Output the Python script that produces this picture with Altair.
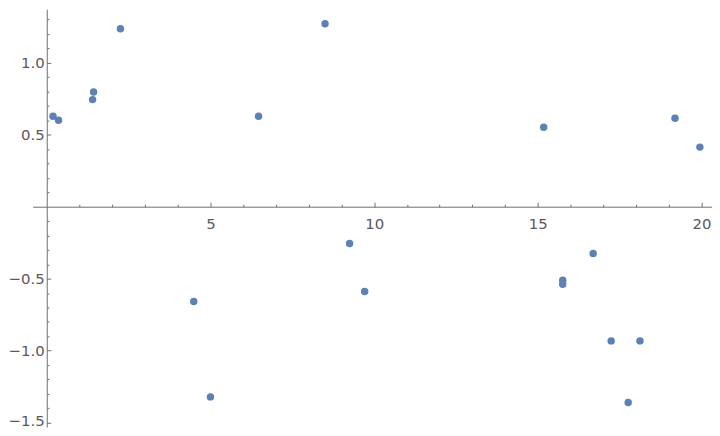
import altair as alt
import pandas as pd

# data
x_vals = [0.19, 0.36, 1.40, 1.43, 2.25, 4.49, 5.00, 6.47, 8.50, 9.25,
          9.71, 15.18, 15.76, 15.76, 16.69, 17.24, 17.76, 18.12, 19.19, 19.95]
y_vals = [0.628, 0.601, 0.744, 0.797, 1.236, -0.658, -1.321, 0.628, 1.271, -0.256,
          -0.589, 0.552, -0.511, -0.539, -0.325, -0.932, -1.36, -0.932, 0.615, 0.414]

x_major = [5, 10, 15, 20]
x_ticks = [i for i in range(1, 21)]
y_major = [-1.5, -1.0, -0.5, 0.5, 1.0]
y_ticks = [round(-1.5 + 0.1 * i, 1) for i in range(0, 29) if abs(-1.5 + 0.1 * i) > 1e-9]

df = pd.DataFrame({"x": x_vals, "y": y_vals})

# layout
x_dom = [-0.434, 20.32]
y_dom = [-1.53, 1.372]
W = 683.4
H = 420.2
PAD_LEFT = 24.7

zero_x = W * (0 - x_dom[0]) / (x_dom[1] - x_dom[0])          # px from plot left
zero_y = H * (y_dom[1] - 0) / (y_dom[1] - y_dom[0])          # px from plot top

AX = "#6e6e6e"
LAB = "#5a5a5a"
FONT = "DejaVu Sans"
FS = 15

xs = alt.Scale(domain=x_dom, nice=False, zero=False)
ys = alt.Scale(domain=y_dom, nice=False, zero=False)

# ticks pointing up (top-orient axis placed on y=0)
x_tick_axis = alt.Axis(orient="top", offset=-zero_y, values=x_ticks, labels=False, title=None,
                       grid=False, domainColor=AX, tickColor=AX, domainWidth=1, tickWidth=1,
                       tickSize={"condition": {"test": "datum.value % 5 === 0", "value": 4.5}, "value": 2.5})
# labels below y=0
x_label_axis = alt.Axis(orient="bottom", offset=-(H - zero_y), values=x_major, ticks=False, domain=False,
                        title=None, grid=False, labelFont=FONT, labelFontSize=FS, labelColor=LAB,
                        labelPadding=10, format="d")
# ticks pointing right (right-orient axis placed on x=0)
y_tick_axis = alt.Axis(orient="right", offset=-(W - zero_x), values=y_ticks, labels=False, title=None,
                       grid=False, domainColor=AX, tickColor=AX, domainWidth=1, tickWidth=1,
                       tickSize={"condition": {"test": "abs(datum.value*2 - round(datum.value*2)) < 1e-6", "value": 4},
                                 "value": 2.2})
y_label_axis = alt.Axis(orient="left", offset=-zero_x, values=y_major, ticks=False, domain=False,
                        title=None, grid=False, labelFont=FONT, labelFontSize=FS, labelColor=LAB,
                        labelPadding=2.5,
                        labelExpr="(datum.value < 0 ? '\u2212' : '') + format(abs(datum.value), '.1f')",
                        labelOffset={"condition": {"test": "datum.value < -1.4", "value": -2.5}, "value": 0})

base = alt.Chart(df)

pts = base.mark_circle(size=56, opacity=1, color="#5E81B5").encode(
    x=alt.X("x:Q", scale=xs, axis=x_tick_axis),
    y=alt.Y("y:Q", scale=ys, axis=y_tick_axis),
)
lab = base.mark_circle(size=0, opacity=0).encode(
    x=alt.X("x:Q", scale=xs, axis=x_label_axis),
    y=alt.Y("y:Q", scale=ys, axis=y_label_axis),
)

chart = alt.layer(lab, pts).resolve_axis(x="independent", y="independent").properties(
    width=W, height=H,
    background="white",
    autosize=alt.AutoSizeParams(type="none"),
    padding={"left": PAD_LEFT, "top": 0, "right": 0, "bottom": 0},
).configure_view(strokeWidth=0, stroke="transparent")

chart.save("out.html", embed_options={"renderer": "svg", "actions": False})
